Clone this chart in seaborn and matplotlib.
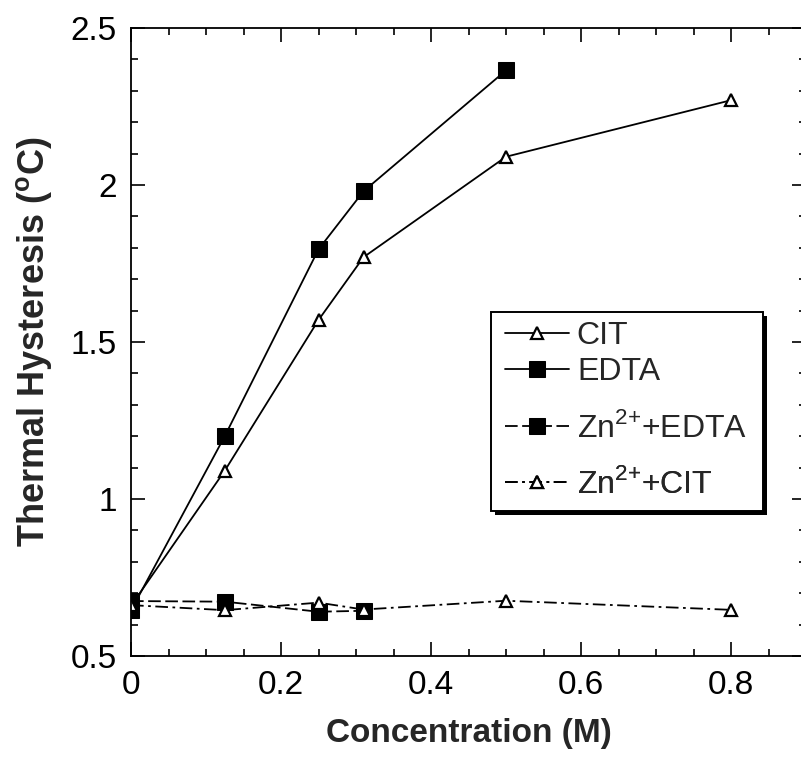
import matplotlib
matplotlib.use("Agg")
import matplotlib.pyplot as plt
import matplotlib.patches as mpatches
import seaborn as sns
import pandas as pd
from matplotlib.ticker import MultipleLocator

# ---- data ----
cit_x = [0.0, 0.125, 0.25, 0.31, 0.5, 0.8]
cit_y = [0.66, 1.09, 1.57, 1.77, 2.09, 2.27]

edta_x = [0.0, 0.125, 0.25, 0.31, 0.5]
edta_y = [0.645, 1.20, 1.795, 1.98, 2.365]

zn_edta_x = [0.0, 0.125, 0.25, 0.31]
zn_edta_y = [0.675, 0.673, 0.641, 0.644]

zn_cit_x = [0.0, 0.125, 0.25, 0.31, 0.5, 0.8]
zn_cit_y = [0.662, 0.646, 0.670, 0.648, 0.676, 0.647]

labels = ["CIT", "EDTA", "Zn$^{2{+}}$+EDTA", "Zn$^{2{+}}$+CIT"]

x_ticks = [0, 0.2, 0.4, 0.6, 0.8]
x_tick_labels = ["0", "0.2", "0.4", "0.6", "0.8"]
y_ticks = [0.5, 1.0, 1.5, 2.0, 2.5]
y_tick_labels = ["0.5", "1", "1.5", "2", "2.5"]

sns.set_style("ticks")
plt.rcParams["font.family"] = ["Liberation Sans", "DejaVu Sans"]
plt.rcParams["mathtext.fontset"] = "custom"
plt.rcParams["mathtext.rm"] = "Liberation Sans"
plt.rcParams["mathtext.bf"] = "Liberation Sans:bold"

W, H = 801, 760
fig = plt.figure(figsize=(W / 100, H / 100), dpi=100)
AX_L, AX_R, AX_T, AX_B = 131, 806, 28, 656
ax = fig.add_axes([AX_L / W, (H - AX_B) / H, (AX_R - AX_L) / W, (AX_B - AX_T) / H])


def ax_x(px):
    return (px - AX_L) / (AX_R - AX_L)


def ax_y(py):
    return (AX_B - py) / (AX_B - AX_T)


frames = [
    (cit_x, cit_y, labels[0], dict(marker="^", markersize=9, markerfacecolor="white",
                                  markeredgecolor="black", markeredgewidth=1.6,
                                  linestyle="-")),
    (edta_x, edta_y, labels[1], dict(marker="s", markersize=11, markerfacecolor="black",
                                    markeredgecolor="black", linestyle="-")),
    (zn_edta_x, zn_edta_y, labels[2], dict(marker="s", markersize=11, markerfacecolor="black",
                                          markeredgecolor="black", dashes=(7, 2.5))),
    (zn_cit_x, zn_cit_y, labels[3], dict(marker="^", markersize=9, markerfacecolor="white",
                                        markeredgecolor="black", markeredgewidth=1.6,
                                        dashes=(7, 2.5, 1.5, 2.5))),
]

for xs, ys, lab, kw in frames:
    df = pd.DataFrame({"x": xs, "y": ys})
    sns.lineplot(data=df, x="x", y="y", ax=ax, color="black", linewidth=1.3,
                 label=lab, sort=False, **kw)

ax.set_xlim(0, 0.9)
ax.set_ylim(0.5, 2.5)
ax.set_xticks(x_ticks)
ax.set_xticklabels(x_tick_labels)
ax.set_yticks(y_ticks)
ax.set_yticklabels(y_tick_labels)
ax.xaxis.set_minor_locator(MultipleLocator(0.05))
ax.yaxis.set_minor_locator(MultipleLocator(0.1))
ax.tick_params(which="both", direction="in", top=True, right=True, width=1.2,
               labelsize=24, colors="black")
ax.tick_params(which="major", length=10, pad=10)
ax.tick_params(which="minor", length=5)
for s in ax.spines.values():
    s.set_linewidth(1.3)
    s.set_color("black")

ax.set_xlabel("Concentration (M)", fontsize=24, fontweight="bold", labelpad=12)
ax.set_ylabel("Thermal Hysteresis ($^{\\mathbf{o}}$C)", fontsize=26, fontweight="bold",
              labelpad=12)

# ---- legend: framed box with individually placed rows ----
handles, labs = ax.get_legend_handles_labels()
if ax.get_legend():
    ax.get_legend().remove()

box_l, box_r, box_t, box_b = 491, 763, 312, 511
shadow = mpatches.Rectangle((ax_x(box_l + 4), ax_y(box_b + 4)),
                            ax_x(box_r) - ax_x(box_l), ax_y(box_t) - ax_y(box_b),
                            transform=ax.transAxes, facecolor="black", edgecolor="none",
                            zorder=4.4, clip_on=False)
frame = mpatches.Rectangle((ax_x(box_l), ax_y(box_b)),
                           ax_x(box_r) - ax_x(box_l), ax_y(box_t) - ax_y(box_b),
                           transform=ax.transAxes, facecolor="white", edgecolor="black",
                           linewidth=1.4, zorder=4.5, clip_on=False)
ax.add_patch(shadow)
ax.add_patch(frame)

row_y = [336, 372, 428, 484]
for h, lab, ry in zip(handles, labs, row_y):
    lg = ax.legend([h], [lab], loc="center left", bbox_to_anchor=(ax_x(505), ax_y(ry)),
                   borderaxespad=0, borderpad=0, frameon=False, fontsize=23,
                   handlelength=2.0, handletextpad=0.25)
    lg.set_zorder(5)
    ax.add_artist(lg)

fig.savefig("out.png", dpi=100)
